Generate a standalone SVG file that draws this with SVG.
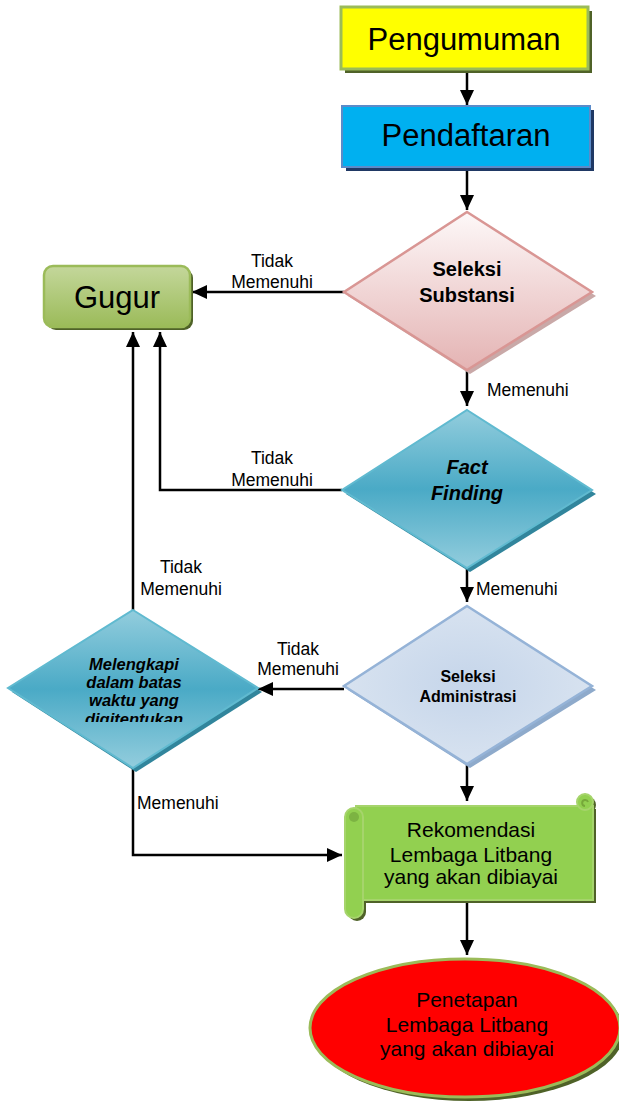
<svg xmlns="http://www.w3.org/2000/svg" width="619" height="1101" viewBox="0 0 619 1101">
<style>
.t{font-family:"Liberation Sans",Arial,sans-serif;fill:#000;text-anchor:middle}
.big{font-size:31px}
.lbl{font-size:17.5px}
.lbls{font-family:"Liberation Sans",Arial,sans-serif;font-size:17.5px;fill:#000}
.b{font-weight:bold}
.bi{font-weight:bold;font-style:italic}
.mid{font-size:21px}
.edge{fill:none;stroke:#000;stroke-width:2.5}
</style>
<defs>
<marker id="ah" markerUnits="userSpaceOnUse" markerWidth="16" markerHeight="14" refX="15" refY="7" orient="auto">
<path d="M0,0 L15,7 L0,14 z" fill="#000"/>
</marker>
<linearGradient id="gGugur" x1="0" y1="0" x2="0" y2="1">
<stop offset="0" stop-color="#c4d79b"/><stop offset="1" stop-color="#9bbb59"/>
</linearGradient>
<linearGradient id="gPink" x1="0" y1="0" x2="0" y2="1">
<stop offset="0" stop-color="#fdf8f8"/><stop offset="1" stop-color="#e4b3b3"/>
</linearGradient>
<linearGradient id="gTeal" x1="0" y1="0" x2="0" y2="1">
<stop offset="0" stop-color="#93cddd"/><stop offset="0.5" stop-color="#4aaac6"/><stop offset="1" stop-color="#93cddd"/>
</linearGradient>
<radialGradient id="gBlue" cx="0.5" cy="0.5" r="0.6">
<stop offset="0" stop-color="#c5d5ea"/><stop offset="1" stop-color="#dbe5f1"/>
</radialGradient>
<clipPath id="clipMel"><rect x="0" y="600" width="270" height="122"/></clipPath>
</defs>

<g id="connectors">
<line class="edge" x1="467" y1="70" x2="467" y2="105" marker-end="url(#ah)"/>
<line class="edge" x1="467" y1="168" x2="467" y2="210" marker-end="url(#ah)"/>
<line class="edge" x1="344" y1="292" x2="192" y2="292" marker-end="url(#ah)"/>
<line class="edge" x1="467" y1="371" x2="467" y2="406" marker-end="url(#ah)"/>
<polyline class="edge" points="342,490 160,490 160,332" marker-end="url(#ah)"/>
<line class="edge" x1="133" y1="610" x2="133" y2="332" marker-end="url(#ah)"/>
<line class="edge" x1="467" y1="569" x2="467" y2="602" marker-end="url(#ah)"/>
<line class="edge" x1="344" y1="689" x2="258" y2="689" marker-end="url(#ah)"/>
<polyline class="edge" points="133,768 133,855 342,855" marker-end="url(#ah)"/>
<line class="edge" x1="467" y1="765" x2="467" y2="801" marker-end="url(#ah)"/>
<line class="edge" x1="467" y1="901" x2="467" y2="955" marker-end="url(#ah)"/>
<text class="t lbl" x="272" y="267">Tidak</text>
<text class="t lbl" x="272" y="288">Memenuhi</text>
<text class="lbls" x="487" y="396">Memenuhi</text>
<text class="t lbl" x="272" y="464">Tidak</text>
<text class="t lbl" x="272" y="486">Memenuhi</text>
<text class="t lbl" x="181" y="573">Tidak</text>
<text class="t lbl" x="181" y="595">Memenuhi</text>
<text class="lbls" x="476" y="595">Memenuhi</text>
<text class="t lbl" x="298" y="655">Tidak</text>
<text class="t lbl" x="298" y="675">Memenuhi</text>
<text class="lbls" x="137" y="809">Memenuhi</text>
</g>

<g id="pengumuman">
<rect x="345" y="11" width="247" height="62" fill="#4f6228"/>
<rect x="341" y="7" width="247" height="62" fill="#ffff00" stroke="#9bbb59" stroke-width="3"/>
<text class="t big" x="464" y="50">Pengumuman</text>
</g>

<g id="pendaftaran">
<rect x="346" y="110" width="248" height="61" fill="#1f3864"/>
<rect x="342" y="106" width="248" height="61" fill="#00b0f0" stroke="#5b8bc9" stroke-width="2"/>
<text class="t big" x="466" y="146">Pendaftaran</text>
</g>

<g id="gugur">
<rect x="47" y="269" width="146" height="61" rx="9" fill="#4f6228"/>
<rect x="44" y="266" width="146" height="61" rx="9" fill="url(#gGugur)" stroke="#9bbb59" stroke-width="2.5"/>
<text class="t big" x="117" y="308">Gugur</text>
</g>

<g id="seleksi-substansi">
<polygon points="470,216 596,296 470,374 348,296" fill="#c9a9a8"/>
<polygon points="467,212 592,292 467,370 344,292" fill="url(#gPink)" stroke="#d99694" stroke-width="2.5"/>
<text class="t b" x="467" y="276" font-size="20">Seleksi</text>
<text class="t b" x="467" y="302" font-size="20">Substansi</text>
</g>

<g id="fact-finding">
<polygon points="470,414 596,494 470,572 346,494" fill="#31859c"/>
<polygon points="467,410 592,490 467,568 342,490" fill="url(#gTeal)" stroke="#60bad0" stroke-width="2"/>
<text class="t bi" x="467" y="474" font-size="20">Fact</text>
<text class="t bi" x="467" y="500" font-size="20">Finding</text>
</g>

<g id="seleksi-administrasi">
<polygon points="470,610 596,690 470,768 348,690" fill="#8eaacb"/>
<polygon points="467,606 592,686 467,764 344,686" fill="url(#gBlue)" stroke="#95b3d7" stroke-width="2.5"/>
<text class="t b" x="468" y="682" font-size="16">Seleksi</text>
<text class="t b" x="468" y="702" font-size="16">Administrasi</text>
</g>

<g id="melengkapi">
<polygon points="136,614 262,692 136,772 12,692" fill="#31859c"/>
<polygon points="133,610 258,688 133,768 8,688" fill="url(#gTeal)" stroke="#60bad0" stroke-width="2"/>
<g clip-path="url(#clipMel)">
<text class="t bi" x="134" y="670" font-size="16.5">Melengkapi</text>
<text class="t bi" x="134" y="688" font-size="16.5">dalam batas</text>
<text class="t bi" x="134" y="706" font-size="16.5">waktu yang</text>
<text class="t bi" x="134" y="725" font-size="16.5">digitentukan</text>
</g>
</g>

<g id="rekomendasi">
<g transform="translate(3,3)" fill="#4f6228">
<rect x="356" y="806" width="237" height="94"/>
<circle cx="585" cy="802" r="8"/>
<rect x="345" y="808" width="18" height="110" rx="9"/>
</g>
<rect x="356" y="806" width="237" height="94" fill="#92d050" stroke="#a6d46c" stroke-width="2"/>
<circle cx="585" cy="802" r="8" fill="#92d050" stroke="#a6d46c" stroke-width="2"/>
<path d="M585,806 a3,3 0 1 1 3,-4" fill="none" stroke="#76a83a" stroke-width="2"/>
<rect x="345" y="808" width="18" height="110" rx="9" fill="#92d050" stroke="#a6d46c" stroke-width="2"/>
<circle cx="354" cy="817" r="5" fill="#7cb342"/>
<text class="t mid" x="471" y="837">Rekomendasi</text>
<text class="t mid" x="471" y="862">Lembaga Litbang</text>
<text class="t mid" x="471" y="884">yang akan dibiayai</text>
</g>

<g id="penetapan">
<ellipse cx="469" cy="1032" rx="155" ry="69" fill="#4f6228"/>
<ellipse cx="465" cy="1028" rx="155" ry="69" fill="#ff0000" stroke="#9bbb59" stroke-width="3"/>
<text class="t mid" x="467" y="1007">Penetapan</text>
<text class="t mid" x="467" y="1032">Lembaga Litbang</text>
<text class="t mid" x="467" y="1056">yang akan dibiayai</text>
</g>
</svg>
